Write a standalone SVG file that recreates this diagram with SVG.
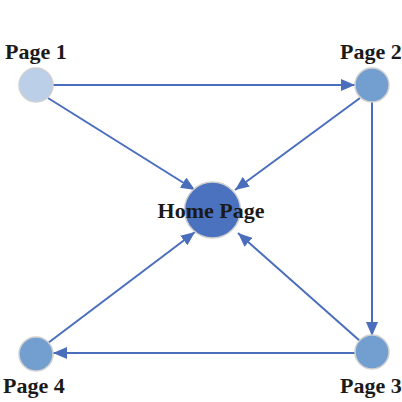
<svg xmlns="http://www.w3.org/2000/svg" width="402" height="402" viewBox="0 0 402 402">
<defs>
<marker id="arr" viewBox="0 0 14 12" refX="14" refY="6" markerWidth="14" markerHeight="12" markerUnits="userSpaceOnUse" orient="auto">
<path d="M0,0 L14,6 L0,12 Z" fill="#4A6EBC"/>
</marker>
</defs>
<style>
.edge{stroke:#4A6EBC;stroke-width:2;fill:none;marker-end:url(#arr)}
.lbl{font-family:"Liberation Serif","Times New Roman",serif;font-weight:bold;font-size:22px;fill:#1a1a1a}
.n{stroke:#D0D0D0;stroke-width:1.5}
</style>
<rect width="402" height="402" fill="#ffffff"/>
<g id="connectors">
<line class="edge" x1="53" y1="85" x2="355" y2="85"/>
<line class="edge" x1="372" y1="102" x2="372" y2="336"/>
<line class="edge" x1="355" y1="353" x2="53" y2="353"/>
<line class="edge" x1="48" y1="98" x2="195" y2="190"/>
<line class="edge" x1="360" y1="98" x2="235" y2="190"/>
<line class="edge" x1="360" y1="341" x2="238" y2="233"/>
<line class="edge" x1="48" y1="343" x2="195" y2="232"/>
</g>
<g id="page1">
<circle class="n" cx="36" cy="85" r="17" fill="#BCCFE8"/>
<text class="lbl" x="5" y="59">Page 1</text>
</g>
<g id="page2">
<circle class="n" cx="372" cy="85" r="17" fill="#739FD0"/>
<text class="lbl" x="340" y="59">Page 2</text>
</g>
<g id="page3">
<circle class="n" cx="372" cy="352" r="17" fill="#739FD0"/>
<text class="lbl" x="340" y="393">Page 3</text>
</g>
<g id="page4">
<circle class="n" cx="36" cy="354" r="17" fill="#739FD0"/>
<text class="lbl" x="3" y="393">Page 4</text>
</g>
<g id="home">
<circle class="n" cx="212.5" cy="210" r="28" fill="#4A72BE"/>
<text class="lbl" x="211" y="218" text-anchor="middle">Home Page</text>
</g>
</svg>
